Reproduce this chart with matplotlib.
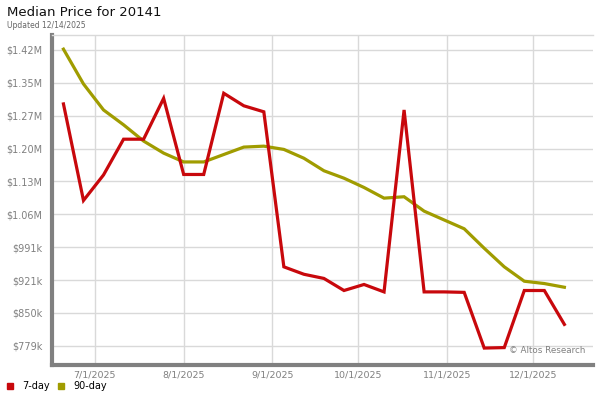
import matplotlib
matplotlib.use("Agg")
import matplotlib.pyplot as plt
import matplotlib.dates as mdates
import pandas as pd

# weekly data points, 6/20/2025 .. 12/12/2025
dates = pd.date_range("2025-06-20", "2025-12-12", freq="7D")

price_7day = [1300, 1092, 1147, 1224, 1224, 1312, 1148, 1148, 1323, 1296,
              1283, 949, 933, 924, 898, 911, 895, 1287, 895, 895,
              894, 774, 775, 898, 898, 825]
price_90day = [1418, 1343, 1287, 1255, 1220, 1194, 1175, 1175, 1191, 1207,
               1209, 1202, 1183, 1156, 1140, 1120, 1097, 1100, 1069, 1050,
               1031, 989, 949, 918, 913, 905]

ytick_vals = [779000 + i * 70800 for i in range(10)]
ytick_labels = ["$779k", "$850k", "$921k", "$991k", "$1.06M", "$1.13M",
                "$1.20M", "$1.27M", "$1.35M", "$1.42M"]
xtick_dates = ["2025-07-01", "2025-08-01", "2025-09-01", "2025-10-01",
               "2025-11-01", "2025-12-01"]
xtick_labels = ["7/1/2025", "8/1/2025", "9/1/2025", "10/1/2025",
                "11/1/2025", "12/1/2025"]

red = "#c8080c"
olive = "#a09c00"
gray = "#808080"

plt.rcParams["font.family"] = "DejaVu Sans"
fig = plt.figure(figsize=(6, 4), dpi=100)
ax = fig.add_axes([52 / 600, 35 / 400, 541 / 600, 330 / 400])

ax.plot(dates, [v * 1000 for v in price_90day], color=olive, lw=2.3,
        solid_joinstyle="miter", zorder=3)
ax.plot(dates, [v * 1000 for v in price_7day], color=red, lw=2.3,
        solid_joinstyle="miter", zorder=4)

ax.set_ylim(737500, 1448500)
ax.set_xlim(pd.Timestamp("2025-06-16"), pd.Timestamp("2025-12-22"))
ax.set_yticks(ytick_vals)
ax.set_yticklabels(ytick_labels)
ax.set_xticks([pd.Timestamp(d) for d in xtick_dates])
ax.set_xticklabels(xtick_labels)

ax.grid(True, color="#d9d9d9", lw=1)
ax.set_axisbelow(True)
ax.tick_params(axis="both", length=0, colors=gray, labelsize=7)
ax.tick_params(axis="y", pad=7)
ax.tick_params(axis="x", pad=4, labelsize=6.8)

for side in ["right"]:
    ax.spines[side].set_visible(False)
ax.spines["top"].set_color("#d9d9d9")
ax.spines["top"].set_linewidth(1)
ax.spines["left"].set_color(gray)
ax.spines["left"].set_linewidth(3)
ax.spines["bottom"].set_color(gray)
ax.spines["bottom"].set_linewidth(3)

ax.text(0.985, 0.03, "\u00a9 Altos Research", transform=ax.transAxes,
        ha="right", va="bottom", fontsize=6.3, color=gray)

fig.text(7 / 600, 1 - 13 / 400, "Median Price for 20141", fontsize=9.5,
         color="#111111", va="center", ha="left")
fig.text(7 / 600, 1 - 25 / 400, "Updated 12/14/2025", fontsize=5.5,
         color="#666666", va="center", ha="left")

# legend at the bottom
fig.patches.append(plt.Rectangle((7 / 600, 1 - 389 / 400), 6 / 600, 6 / 400,
                                 transform=fig.transFigure, color=red))
fig.text(22 / 600, 1 - 386 / 400, "7-day", fontsize=7, va="center")
fig.patches.append(plt.Rectangle((58 / 600, 1 - 389 / 400), 6 / 600, 6 / 400,
                                 transform=fig.transFigure, color=olive))
fig.text(73 / 600, 1 - 386 / 400, "90-day", fontsize=7, va="center")

fig.savefig("out.png", dpi=100)
